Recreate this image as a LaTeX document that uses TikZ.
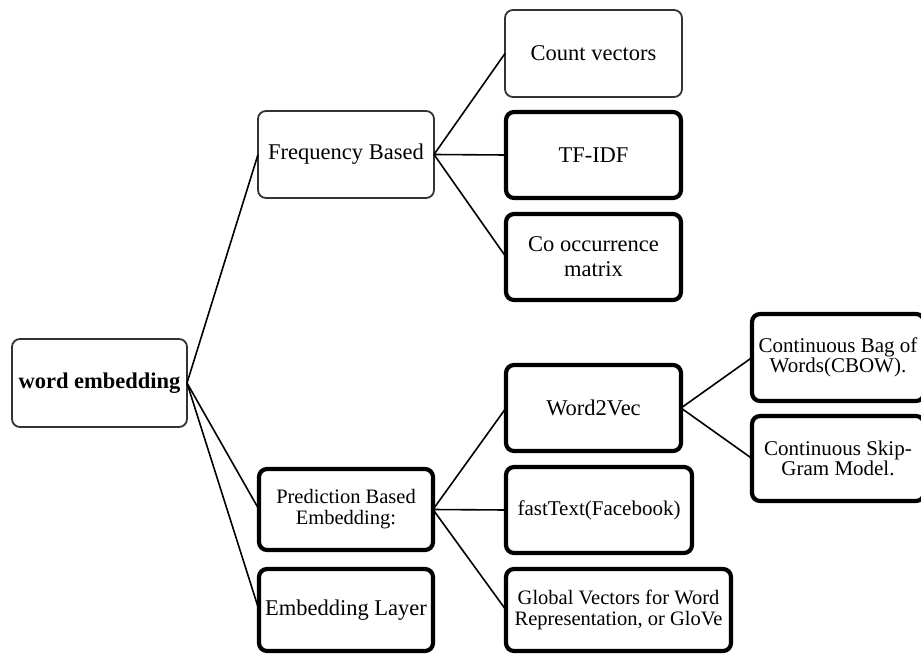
\documentclass[tikz,border=0pt]{standalone}
\usepackage{fontspec}
\setmainfont{Liberation Serif}
\begin{document}
\begin{tikzpicture}[x=1pt,y=-1pt,
  box/.style={draw=black!80, line width=1.8pt, rounded corners=8pt, fill=white, align=center, inner sep=2pt, outer sep=0pt},
  thin/.style={box},
  thick/.style={box, draw=black, line width=4.2pt},
  big/.style={font=\fontsize{22.5}{25}\selectfont},
  small/.style={font=\fontsize{20.5}{20.5}\selectfont},
  conn/.style={line width=1.6pt, draw=black}]
\useasboundingbox (0,0) rectangle (921,656);
% connectors first
\coordinate (dummy) at (0,0);
% boxes
\node[thin, big, minimum width=175pt, minimum height=88pt, font=\fontsize{22.5}{25}\selectfont\bfseries] (we) at (99.5,383) {word embedding};
\node[thin, big, minimum width=176pt, minimum height=87pt] (fb) at (346,154.5) {Frequency Based};
\node[thin, big, minimum width=177pt, minimum height=87pt] (cv) at (593.5,53.5) {Count vectors};
\node[thick, big, minimum width=175pt, minimum height=86pt] (tf) at (593.5,155) {TF-IDF};
\node[thick, big, minimum width=175pt, minimum height=86pt] (co) at (593.5,257) {Co occurrence\\matrix};
\node[thick, small, minimum width=174pt, minimum height=81pt, font=\fontsize{20.5}{21}\selectfont] (pb) at (346,509.5) {Prediction Based\\Embedding:};
\node[thick, big, minimum width=174pt, minimum height=82pt] (el) at (346,610) {Embedding Layer};
\node[thick, big, minimum width=175pt, minimum height=86pt] (w2v) at (593.5,408) {Word2Vec};
\node[thick, minimum width=186pt, minimum height=86pt, font=\fontsize{21}{21}\selectfont] (ft) at (599,510) {fastText(Facebook)};
\node[thick, small, minimum width=225pt, minimum height=82pt] (gv) at (618.5,610) {Global Vectors for Word\\Representation, or GloVe};
\node[thick, minimum width=172pt, minimum height=87pt, font=\fontsize{21}{20}\selectfont] (cb) at (838,357.5) {Continuous Bag of\\Words(CBOW).};
\node[thick, minimum width=172pt, minimum height=85pt, font=\fontsize{21}{20}\selectfont] (sk) at (838,458.5) {Continuous Skip-\\Gram Model.};
% connectors
\draw[conn] (we.east) -- (fb.west);
\draw[conn] (we.east) -- (pb.west);
\draw[conn] (we.east) -- (el.west);
\draw[conn] (fb.east) -- (cv.west);
\draw[conn] (fb.east) -- (tf.west);
\draw[conn] (fb.east) -- (co.west);
\draw[conn] (pb.east) -- (w2v.west);
\draw[conn] (pb.east) -- (ft.west);
\draw[conn] (pb.east) -- (gv.west);
\draw[conn] (w2v.east) -- (cb.west);
\draw[conn] (w2v.east) -- (sk.west);
\end{tikzpicture}
\end{document}
